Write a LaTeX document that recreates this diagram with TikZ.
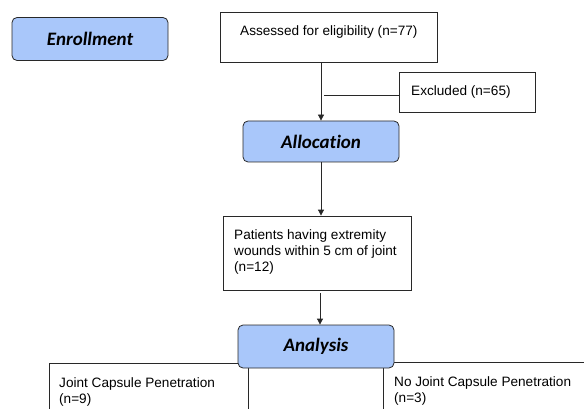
\documentclass[tikz,border=0pt]{standalone}
\usepackage{fontspec}
\setmainfont{Liberation Sans}
\newfontfamily\headfont[RawFeature=-liga]{Carlito}
\usetikzlibrary{arrows.meta}
\definecolor{headblue}{RGB}{169,199,250}
\definecolor{edge}{RGB}{40,40,40}
\begin{document}
\begin{tikzpicture}[x=1pt,y=-1pt,
  head/.style={draw=edge, fill=headblue, rounded corners=5pt, line width=0.8pt,
    font=\headfont\bfseries\itshape\fontsize{19}{22}\selectfont, inner sep=0pt},
  plainbox/.style={draw=edge, line width=0.8pt, inner sep=0pt},
  txt/.style={font=\fontsize{13.6}{16}\selectfont, align=left, inner sep=0pt, anchor=base west},
  arr/.style={-{Triangle[length=6pt,width=6pt]}, line width=0.8pt, draw=edge},
  conn/.style={line width=0.8pt, draw=edge}]
\useasboundingbox (0,0) rectangle (584,409);
\clip (0,0) rectangle (584,409);
% bottom boxes (cut off by the page)
\node[plainbox, minimum width=199pt, minimum height=90pt] (jcp) at (148.5,408) {};
\node[plainbox, minimum width=260pt, minimum height=90pt] (njcp) at (513,407.5) {};
% header boxes
\node[head, minimum width=156pt, minimum height=43pt] (enr) at (90,39) {Enrollment};
\node[head, minimum width=156pt, minimum height=41pt] (alloc) at (321,141.5) {Allocation};
\node[head, minimum width=156pt, minimum height=43pt] (ana) at (316,346.5) {Analysis};
% plain boxes
\node[plainbox, minimum width=217pt, minimum height=50pt] (assess) at (328.5,37) {};
\node[plainbox, minimum width=136pt, minimum height=40pt] (excl) at (467,92) {};
\node[plainbox, minimum width=188pt, minimum height=74pt] (pat) at (317,253) {};
% texts (base = baseline of the last line)
\node[txt] (assesstxt) at (240,36) {Assessed for eligibility (n=77)};
\node[txt] (excltxt) at (411,96) {Excluded (n=65)};
\node[txt] (pattxt) at (234,271) {Patients having extremity\\wounds within 5 cm of joint\\(n=12)};
\node[txt] (jcptxt) at (59,403) {Joint Capsule Penetration\\(n=9)};
\node[txt] (njcptxt) at (394,402) {No Joint Capsule Penetration\\(n=3)};
% connectors
\draw[arr] (alloc.north |- assess.south) -- (alloc.north);
\coordinate (exclend) at (324,95);
\draw[conn] (exclend -| excl.west) -- (exclend);
\draw[arr] (alloc.south) -- (alloc.south |- pat.north);
\coordinate (patout) at (320,293);
\draw[arr] (patout) -- (patout |- ana.north);
\end{tikzpicture}
\end{document}
